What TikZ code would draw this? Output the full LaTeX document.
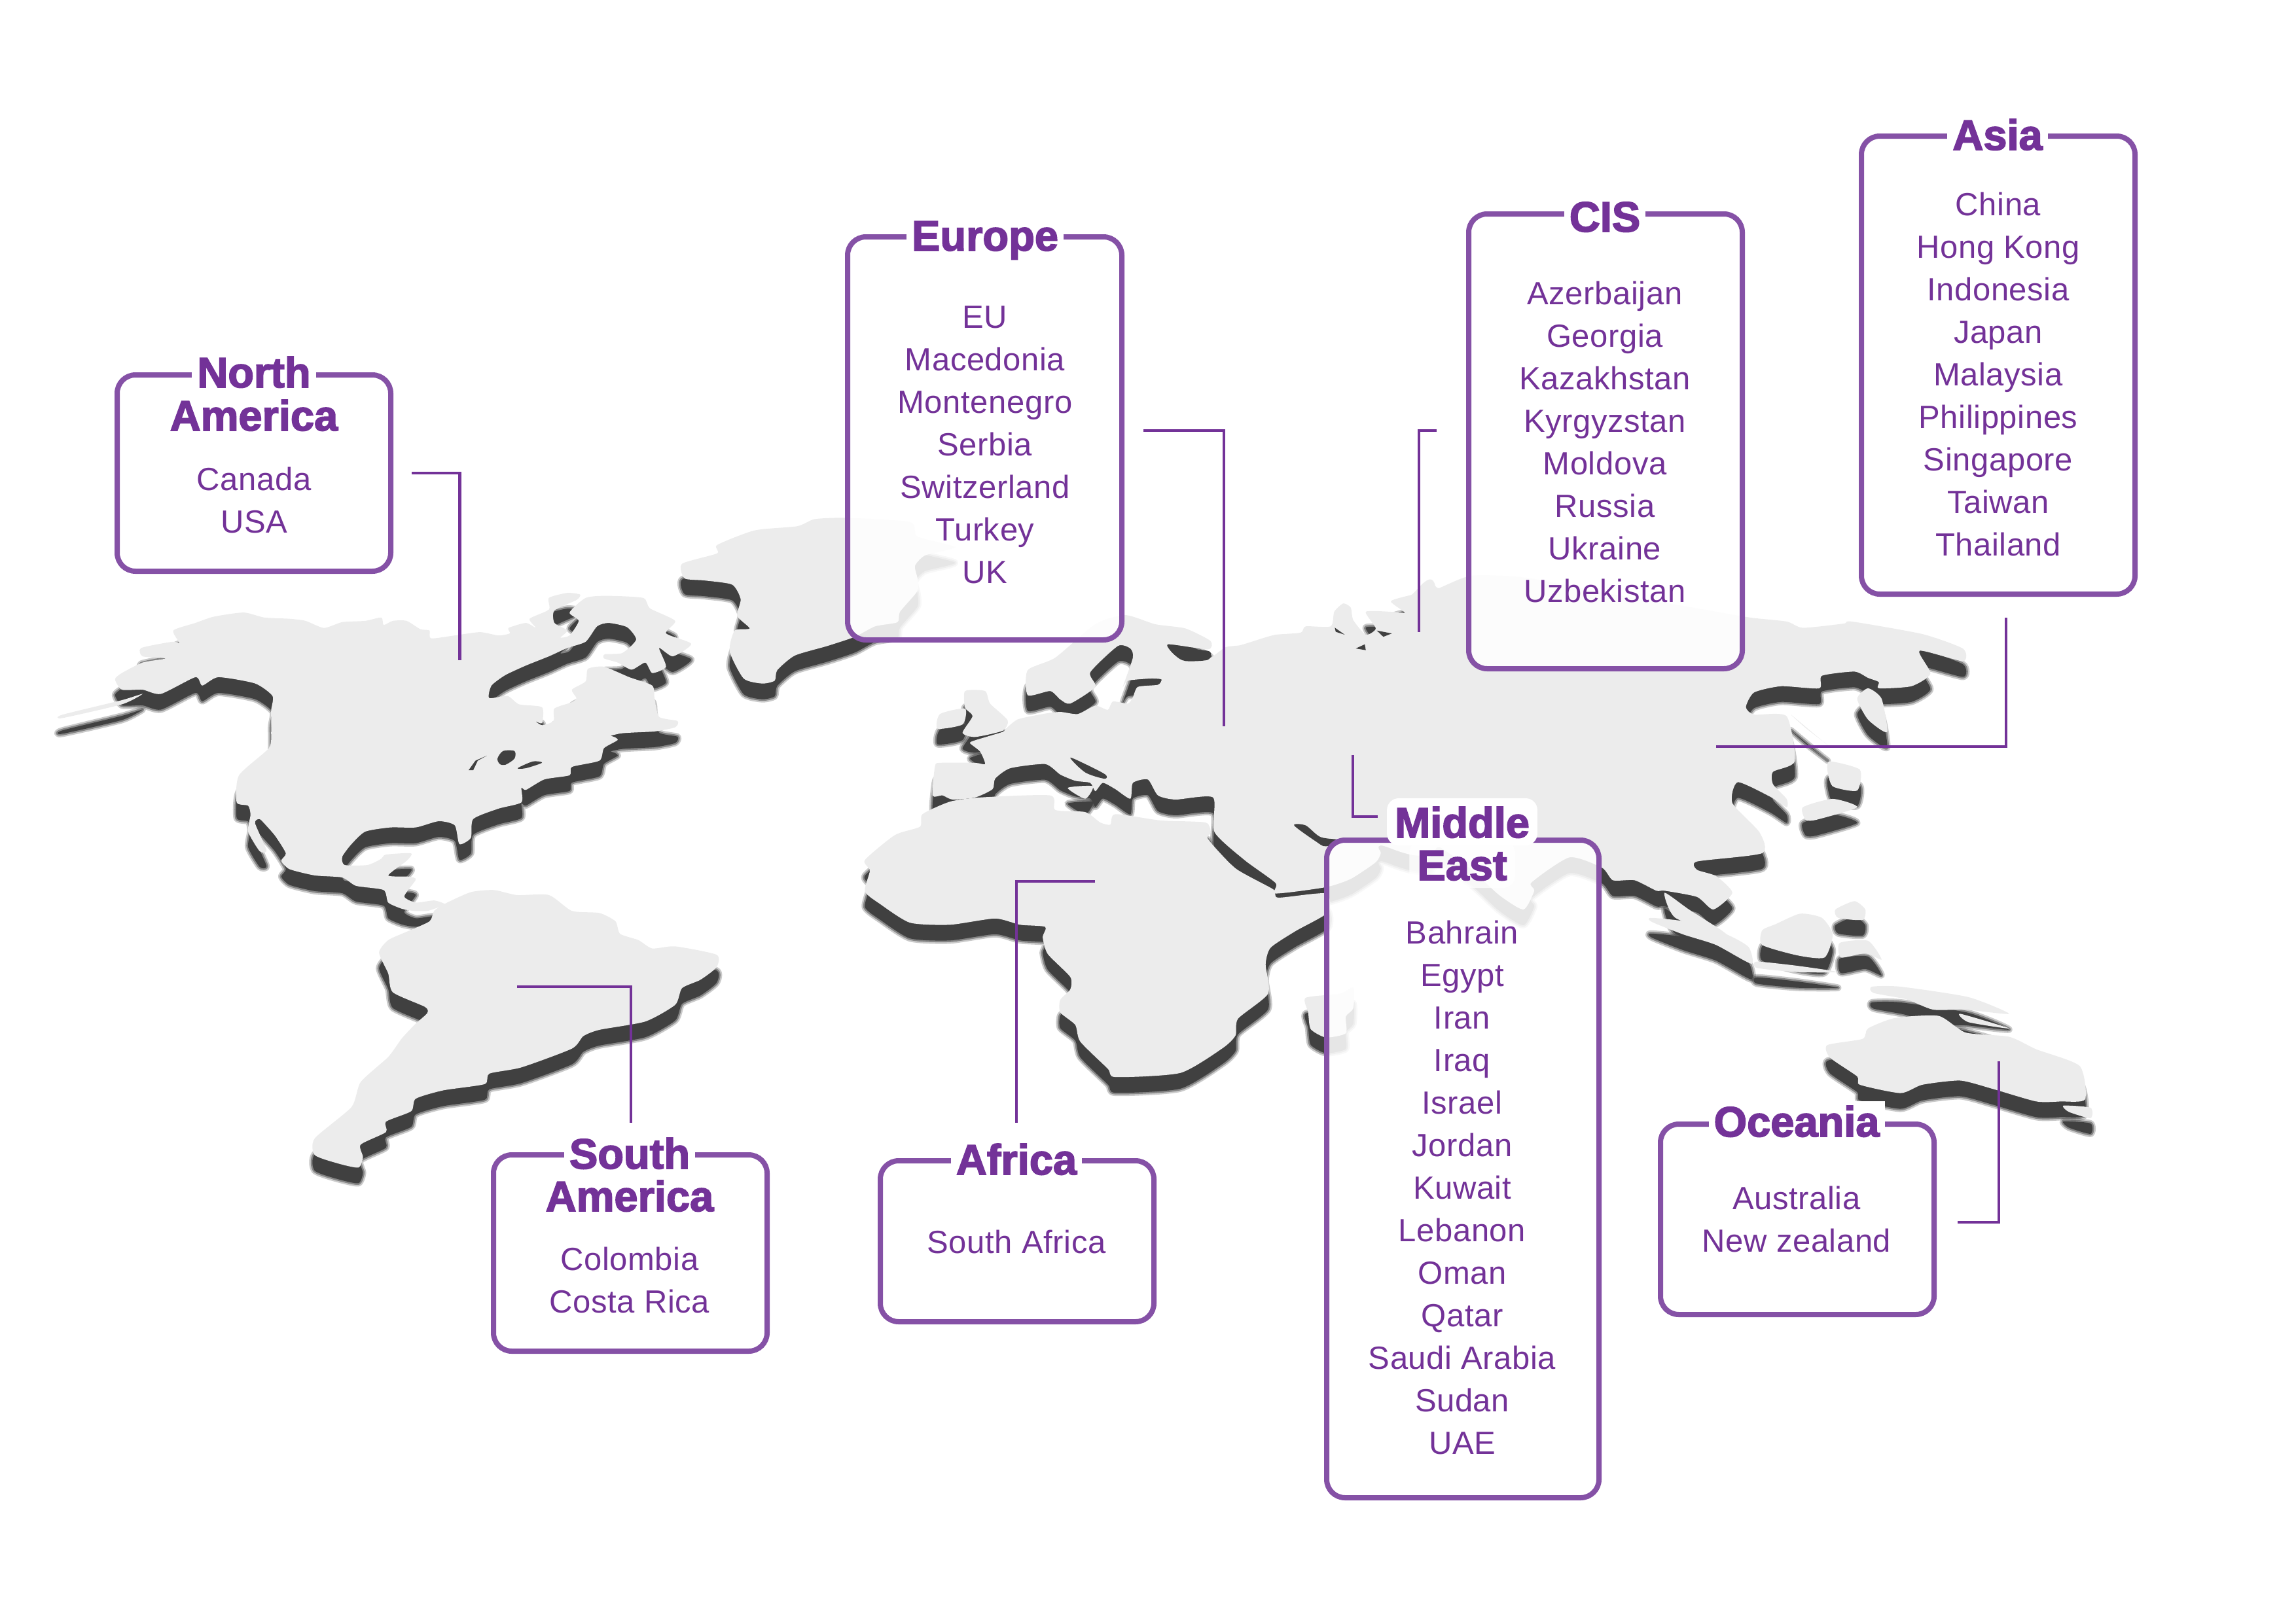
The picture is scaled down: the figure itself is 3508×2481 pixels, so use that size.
\documentclass[tikz,border=0pt]{standalone}
\usepackage{fontspec}
\setmainfont{Liberation Sans}[LetterSpace=1.2]
\newfontfamily\headfont{Liberation Sans Bold}[FakeBold=2.6]
\definecolor{boxline}{HTML}{8551A6}
\definecolor{ink}{HTML}{733298}
\definecolor{landc}{HTML}{ECECEC}
\definecolor{shadowc}{HTML}{404040}
\tikzset{
  zoneA/.style={shift={(60,850)},x=.7015pt,y=-.6378pt},
  zoneB/.style={shift={(1000,750)},x=.7653pt,y=-.6378pt},
  zoneC/.style={shift={(2000,800)},x=.8292pt,y=-.6378pt},
  regionbox/.style={draw=boxline,line width=8pt,fill=white,fill opacity=.87,rounded corners=28pt,anchor=center,inner sep=0pt},
  headtext/.style={font=\headfont\fontsize{65}{65}\selectfont,text=ink,anchor=base,inner xsep=8pt,inner ysep=0pt,text height=54pt,text depth=6pt},
  headgap/.style={headtext,fill=white},
  halo/.style={headtext,fill=white,rounded corners=18pt,inner xsep=12pt,inner ysep=6pt},
  listtext/.style={font=\fontsize{49}{65}\selectfont,text=ink,align=center,anchor=center,inner sep=0pt},
  leader/.style={draw=ink,line width=4.6pt},
}
\newcommand{\lp}[1]{\path[landstyle] plot[smooth cycle,tension=.38] coordinates {#1};}
\newcommand{\landall}{%
\begin{scope}[zoneA]
\lp{(165,295)(180,280)(225,255)(275,245)(225,240)(222,220)(290,205)(305,208)(292,178)(340,160)(380,145)(445,135)(490,147)(545,150)(580,155)(620,172)(660,158)(710,155)(745,147)(750,165)(770,155)(800,155)(830,175)(850,178)(853,197)(905,190)(960,182)(1000,190)(1025,185)(1022,172)(1060,160)(1082,172)(1068,150)(1110,128)(1110,100)(1150,88)(1178,92)(1170,105)(1122,130)(1122,160)(1150,178)(1135,195)(1155,190)(1175,155)(1155,135)(1190,100)(1235,95)(1315,100)(1330,125)(1385,155)(1365,185)(1420,210)(1380,240)(1350,220)(1365,265)(1335,280)(1320,255)(1290,272)(1260,255)(1230,245)(1232,235)(1270,232)(1300,200)(1280,170)(1240,160)(1215,168)(1190,205)(1150,220)(1110,240)(1060,262)(1015,285)(985,310)(980,340)(1020,335)(1045,355)(1095,362)(1095,400)(1080,395)(1095,405)(1120,395)(1122,365)(1160,350)(1170,340)(1160,320)(1190,300)(1195,270)(1230,265)(1285,290)(1335,310)(1340,340)(1350,385)(1390,395)(1385,410)(1340,420)(1265,425)(1195,445)(1240,430)(1260,440)(1230,460)(1220,490)(1160,505)(1155,525)(1100,535)(1060,560)(1050,555)(1050,590)(1000,605)(945,630)(940,675)(915,690)(905,645)(870,635)(820,650)(765,650)(710,660)(680,690)(660,720)(665,740)(715,740)(745,725)(755,715)(810,712)(800,730)(760,765)(805,768)(820,775)(795,815)(820,830)(860,825)(885,835)(860,845)(845,850)(815,850)(790,845)(760,830)(750,800)(690,790)(660,770)(600,765)(545,750)(527,730)(537,712)(515,672)(498,650)(480,630)(470,640)(495,705)(480,707)(455,660)(460,620)(455,598)(430,590)(435,525)(500,460)(505,420)(505,370)(508,335)(470,305)(390,290)(355,310)(340,290)(265,330)(225,320)(180,320)}
\lp{(50,380)(180,345)(225,330)(180,355)(50,388)}
\lp{(850,875)(860,850)(885,832)(940,805)(990,800)(1040,812)(1110,812)(1160,850)(1220,855)(1255,875)(1265,905)(1305,920)(1335,940)(1385,935)(1475,955)(1475,985)(1440,1015)(1400,1035)(1385,1075)(1320,1115)(1220,1135)(1185,1150)(1160,1180)(1050,1225)(980,1240)(970,1265)(880,1280)(820,1300)(810,1330)(755,1355)(755,1380)(700,1410)(705,1440)(695,1465)(650,1455)(600,1435)(600,1395)(680,1320)(700,1260)(760,1200)(790,1155)(820,1120)(845,1095)(840,1080)(770,1045)(760,1000)(740,950)(760,920)(800,900)}
\end{scope}
\begin{scope}[zoneB]
\lp{(55,175)(125,150)(125,130)(200,95)(285,85)(320,68)(385,65)(510,75)(525,110)(600,135)(540,155)(520,180)(525,210)(525,240)(490,290)(485,315)(440,325)(400,350)(345,372)(280,395)(245,430)(240,455)(215,462)(178,450)(150,385)(160,335)(190,330)(165,300)(172,260)(155,225)(100,215)(60,210)}
\lp{(555,730)(560,660)(570,652)(640,652)(660,655)(650,625)(630,605)(640,598)(695,578)(700,572)(725,548)(775,535)(810,530)(845,535)(880,515)(905,525)(915,505)(945,510)(955,495)(965,470)(1005,465)(1012,452)(990,450)(945,455)(935,470)(955,400)(950,378)(925,372)(870,435)(880,470)(830,510)(810,500)(790,480)(745,490)(745,430)(800,400)(880,320)(940,298)(1000,320)(1060,330)(1110,360)(1105,380)(1025,368)(1040,395)(1075,405)(1110,400)(1140,375)(1170,370)(1210,355)(1240,345)(1290,340)(1300,325)(1350,325)(1357,290)(1375,270)(1390,280)(1395,310)(1420,345)(1440,330)(1420,290)(1470,290)(1498,292)(1470,265)(1510,250)(1560,238)(1560,845)(1450,850)(1450,868)(1440,890)(1390,930)(1340,950)(1240,965)(1240,940)(1178,885)(1118,818)(1115,735)(1040,740)(1005,730)(985,692)(955,700)(950,738)(920,715)(895,700)(880,720)(870,700)(840,695)(810,680)(780,655)(710,665)(680,690)(675,715)(640,735)(595,740)(575,730)}
\lp{(620,480)(660,480)(670,510)(705,550)(695,575)(640,590)(615,580)(635,540)(620,520)}
\lp{(570,535)(620,522)(615,560)(565,570)}
\lp{(530,805)(535,775)(590,745)(650,735)(790,730)(800,765)(860,770)(890,795)(910,800)(920,775)(1010,790)(1100,795)(1110,820)(1105,835)(1160,905)(1235,955)(1245,975)(1340,965)(1345,1010)(1280,1055)(1230,1095)(1220,1135)(1225,1205)(1165,1265)(1160,1305)(1135,1335)(1050,1395)(920,1405)(905,1385)(850,1320)(840,1280)(810,1250)(810,1220)(830,1195)(830,1165)(785,1110)(775,1070)(780,1045)(730,1040)(680,1025)(590,1040)(510,1035)(450,990)(420,960)(430,910)(420,885)(480,825)}
\lp{(825,712)(875,708)(860,738)}
\lp{(1300,1215)(1370,1205)(1395,1190)(1395,1240)(1380,1260)(1380,1300)(1340,1310)(1310,1290)(1305,1250)}
\end{scope}
\begin{scope}[zoneC]
\lp{(215,170)(240,155)(300,125)(400,130)(560,170)(700,200)(810,225)(880,235)(910,250)(985,240)(1000,235)(1130,265)(1205,300)(1205,330)(1125,305)(1145,360)(1110,390)(1050,395)(1050,380)(1030,370)(1005,355)(945,365)(940,395)(870,390)(820,405)(805,440)(820,458)(880,462)(895,570)(855,595)(855,625)(880,660)(880,680)(850,655)(790,620)(780,670)(830,740)(835,790)(715,810)(715,830)(750,845)(780,885)(745,925)(715,895)(655,880)(640,880)(600,855)(560,855)(540,825)(480,800)(410,860)(415,880)(395,925)(350,890)(300,830)(240,775)(215,775)}
\lp{(655,885)(675,945)(770,990)(760,975)(700,925)}
\lp{(1010,420)(1030,395)(1055,420)(1065,500)(1030,470)}
\lp{(888,458)(945,520)(955,530)(915,490)}
\lp{(960,570)(1015,590)(1010,640)(965,630)(955,590)}
\lp{(910,680)(965,660)(1010,680)(935,710)(915,710)}
\lp{(630,945)(700,955)(770,985)(810,1015)(815,1055)(750,1010)(690,985)(632,955)}
\lp{(835,975)(860,960)(905,935)(945,945)(965,985)(950,1040)(900,1035)(835,1010)}
\lp{(825,1050)(900,1060)(975,1075)(900,1075)(825,1065)}
\lp{(978,1005)(1030,1000)(1055,1045)(1025,1030)(980,1040)}
\lp{(970,925)(1005,905)(1025,925)(1020,950)(975,945)}
\lp{(1037,1110)(1090,1110)(1215,1135)(1290,1175)(1210,1165)(1150,1165)(1100,1140)(1040,1125)}
\lp{(1200,1175)(1290,1210)(1215,1195)}
\lp{(955,1250)(1020,1235)(1030,1210)(1080,1185)(1160,1180)(1210,1220)(1290,1230)(1340,1260)(1420,1300)(1430,1380)(1385,1385)(1340,1385)(1260,1355)(1200,1335)(1130,1345)(1090,1365)(1015,1345)(1010,1325)(960,1280)}
\lp{(1390,1395)(1440,1400)(1440,1425)(1400,1410)}
\end{scope}
}
\begin{document}
\begin{tikzpicture}[x=1pt,y=-1pt]
\useasboundingbox (0,0) rectangle (3508,2481);
% map: soft shadow passes, then the land surface
\begin{scope}[shift={(0,24)},line join=round]
\tikzset{landstyle/.style={draw=shadowc,line width=10pt,opacity=.28}}\landall
\tikzset{landstyle/.style={draw=shadowc,line width=5pt,opacity=.5}}\landall
\tikzset{landstyle/.style={fill=shadowc}}\landall
\end{scope}
\tikzset{landstyle/.style={fill=landc}}\landall
\begin{scope}[zoneA]
\fill[shadowc] (935,513)--(950,490)--(975,478)--(955,490)--(945,513)--cycle;
\fill[shadowc] plot[smooth cycle,tension=.5] coordinates {(998,485)(1010,467)(1035,467)(1035,485)(1015,500)(1003,498)};
\fill[shadowc] plot[smooth cycle,tension=.5] coordinates {(1042,508)(1075,492)(1095,495)(1060,508)};
\end{scope}
\begin{scope}[zoneB]
\fill[shadowc] plot[smooth cycle,tension=.5] coordinates {(1277,802)(1300,802)(1330,830)(1375,838)(1340,852)(1320,840)};
\fill[shadowc] plot[smooth cycle,tension=.5] coordinates {(830,640)(860,655)(900,680)(898,690)(860,675)};
\fill[shadowc] plot[smooth cycle,tension=.5] coordinates {(1025,370)(1060,378)(1108,385)(1105,405)(1060,408)(1040,395)};
\fill[shadowc] (1358,328)--(1378,345)--(1360,338)--cycle;
\fill[shadowc] (1400,378)--(1418,368)--(1420,382)--cycle;
\fill[shadowc] (1442,335)--(1472,342)--(1455,350)--cycle;
\end{scope}
% connectors
\coordinate (naS) at (629,723); \coordinate (naE) at (702.5,1009);
\coordinate (euS) at (1747,658); \coordinate (euE) at (1870,1110);
\coordinate (ciS) at (2195,658); \coordinate (ciE) at (2168,966);
\coordinate (asS) at (3065,944); \coordinate (asE) at (2622,1141);
\coordinate (meS) at (2067,1154); \coordinate (meE) at (2105,1248);
\coordinate (ocS) at (2991,1868); \coordinate (ocE) at (3054,1622);
\coordinate (afS) at (1673,1347); \coordinate (afE) at (1553,1716);
\coordinate (saS) at (790,1508); \coordinate (saE) at (964,1716);
\draw[leader] (naS) -| (naE);
\draw[leader] (euS) -| (euE);
\draw[leader] (ciS) -| (ciE);
\draw[leader] (asS) |- (asE);
\draw[leader] (meS) |- (meE);
\draw[leader] (ocS) -| (ocE);
\draw[leader] (afS) -| (afE);
\draw[leader] (saS) -| (saE);
% boxes
\node[regionbox,minimum width=418pt,minimum height=300pt] (naBox) at (388,723) {};
\node[regionbox,minimum width=419pt,minimum height=616pt] (euBox) at (1504.5,670) {};
\node[regionbox,minimum width=418pt,minimum height=695pt] (ciBox) at (2453,674.5) {};
\node[regionbox,minimum width=418pt,minimum height=700pt] (asBox) at (3053,558) {};
\node[regionbox,minimum width=416pt,minimum height=1005pt] (meBox) at (2235,1786.5) {};
\node[regionbox,minimum width=418pt,minimum height=291pt] (ocBox) at (2746,1863.5) {};
\node[regionbox,minimum width=418pt,minimum height=246pt] (afBox) at (1554,1897) {};
\node[regionbox,minimum width=418pt,minimum height=300pt] (saBox) at (963,1915) {};
% headings
\node[headgap] (naH1) at (388,592) {North};
\node[headtext] (naH2) at (388,658) {America};
\node[headgap] (euH) at (1505,383) {Europe};
\node[headgap] (ciH) at (2452,354) {CIS};
\node[headgap] (asH) at (3052,229) {Asia};
\node[halo] (meH1) at (2234,1280) {Middle};
\node[halo,fill opacity=.75,text opacity=1] (meH2) at (2234,1345) {East};
\node[headgap] (ocH) at (2745,1737) {Oceania};
\node[headgap] (afH) at (1553,1795) {Africa};
\node[headgap] (saH1) at (962,1786) {South};
\node[headtext] (saH2) at (962,1851) {America};
% lists
\node[listtext] (naL) at (388,764) {Canada\\USA};
\node[listtext] (euL) at (1505,680) {EU\\Macedonia\\Montenegro\\Serbia\\Switzerland\\Turkey\\UK};
\node[listtext] (ciL) at (2452,675) {Azerbaijan\\Georgia\\Kazakhstan\\Kyrgyzstan\\Moldova\\Russia\\Ukraine\\Uzbekistan};
\node[listtext] (asL) at (3053,572) {China\\Hong Kong\\Indonesia\\Japan\\Malaysia\\Philippines\\Singapore\\Taiwan\\Thailand};
\node[listtext] (meL) at (2234,1815) {Bahrain\\Egypt\\Iran\\Iraq\\Israel\\Jordan\\Kuwait\\Lebanon\\Oman\\Qatar\\Saudi Arabia\\Sudan\\UAE};
\node[listtext] (ocL) at (2745,1863) {Australia\\New zealand};
\node[listtext] (afL) at (1553,1898) {South Africa};
\node[listtext] (saL) at (962,1956) {Colombia\\Costa Rica};
\end{tikzpicture}
\end{document}
